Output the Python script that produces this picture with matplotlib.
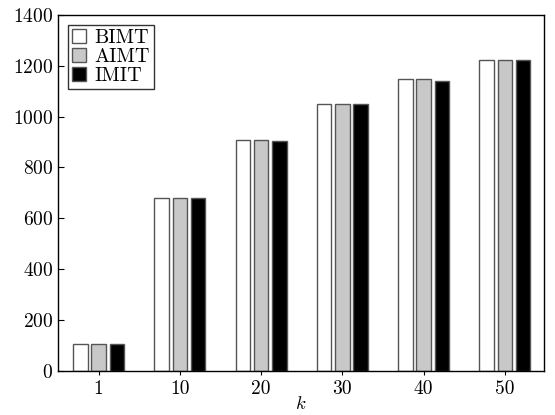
import matplotlib
matplotlib.use("Agg")
import matplotlib.pyplot as plt
import numpy as np

categories = ["1", "10", "20", "30", "40", "50"]
series_names = ["BIMT", "AIMT", "IMIT"]
bimt = [104, 678, 908, 1048, 1148, 1222]
aimt = [104, 678, 908, 1048, 1148, 1222]
imit = [104, 678, 905, 1048, 1140, 1222]
y_ticks = [0, 200, 400, 600, 800, 1000, 1200, 1400]

plt.rcParams["font.family"] = "cmr10"
plt.rcParams["mathtext.fontset"] = "cm"
plt.rcParams["axes.formatter.use_mathtext"] = True

fig = plt.figure(figsize=(5.55, 4.15), dpi=100)
ax = fig.add_axes([0.1045, 0.1067, 0.8755, 0.8572])

x = np.arange(len(categories))
width = 0.18
step = 0.225
styles = [("#ffffff", "#555555"), ("#c8c8c8", "#555555"), ("#000000", "#555555")]
for i, (vals, name, (fc, ec)) in enumerate(zip([bimt, aimt, imit], series_names, styles)):
    ax.bar(x + (i - 1) * step, vals, width, color=fc, edgecolor=ec,
           linewidth=1.0, label=name)

ax.set_xlim(-0.5, 5.48)
ax.set_ylim(0, 1400)
ax.set_xticks(x)
ax.set_xticklabels(categories)
ax.set_yticks(y_ticks)
ax.tick_params(axis="y", direction="in", length=4, labelsize=14, left=True, right=False)
ax.tick_params(axis="x", direction="out", length=3, labelsize=14, bottom=True, top=False)
ax.set_xlabel("$k$", fontsize=13.5, labelpad=-2)
for sp in ax.spines.values():
    sp.set_linewidth(1.0)

leg = ax.legend(loc="upper left", fontsize=14.5, frameon=True, fancybox=False,
                edgecolor="#000000", handlelength=0.7, handleheight=0.7,
                handletextpad=0.4, borderpad=0.2, labelspacing=0.05,
                borderaxespad=0.5)
leg.get_frame().set_linewidth(1.0)

fig.savefig("out.png", dpi=100)
